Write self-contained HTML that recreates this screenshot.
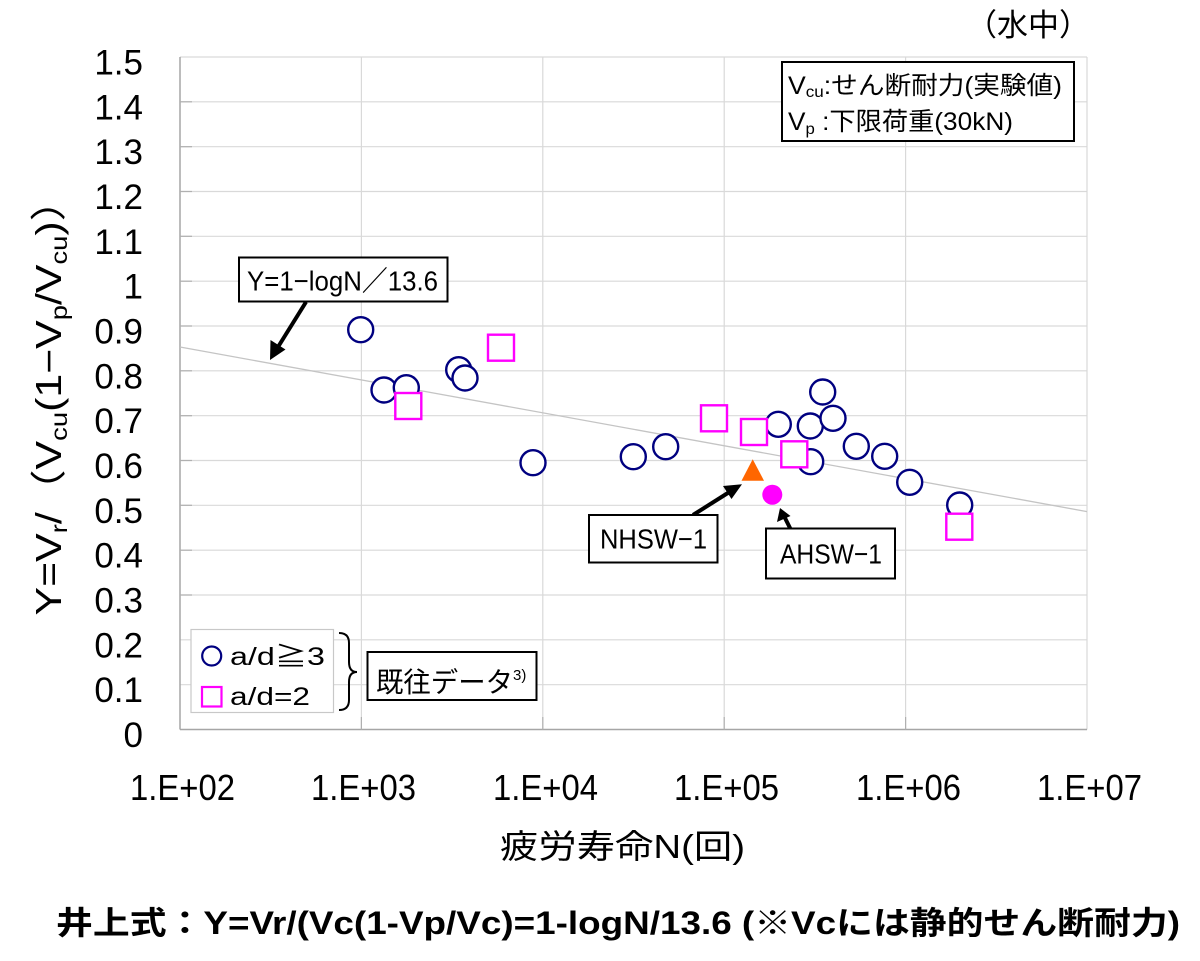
<!DOCTYPE html>
<html>
<head>
<meta charset="utf-8">
<style>
html,body{margin:0;padding:0;background:#fff;}
svg{display:block;}
text{font-family:"Liberation Sans","Noto Sans CJK JP",sans-serif;fill:#000;}
</style>
</head>
<body>
<svg width="1200" height="961" viewBox="0 0 1200 961" xmlns="http://www.w3.org/2000/svg">
<rect x="0" y="0" width="1200" height="961" fill="#fff"/>

<g stroke="#d9d9d9" stroke-width="1.2">
<line x1="180" y1="57" x2="1087" y2="57"/>
<line x1="180" y1="101.8" x2="1087" y2="101.8"/>
<line x1="180" y1="146.7" x2="1087" y2="146.7"/>
<line x1="180" y1="191.5" x2="1087" y2="191.5"/>
<line x1="180" y1="236.3" x2="1087" y2="236.3"/>
<line x1="180" y1="281.2" x2="1087" y2="281.2"/>
<line x1="180" y1="326" x2="1087" y2="326"/>
<line x1="180" y1="370.8" x2="1087" y2="370.8"/>
<line x1="180" y1="415.7" x2="1087" y2="415.7"/>
<line x1="180" y1="460.5" x2="1087" y2="460.5"/>
<line x1="180" y1="505.3" x2="1087" y2="505.3"/>
<line x1="180" y1="550.2" x2="1087" y2="550.2"/>
<line x1="180" y1="595" x2="1087" y2="595"/>
<line x1="180" y1="639.8" x2="1087" y2="639.8"/>
<line x1="180" y1="684.7" x2="1087" y2="684.7"/>
<line x1="361.4" y1="57" x2="361.4" y2="729.5"/>
<line x1="542.8" y1="57" x2="542.8" y2="729.5"/>
<line x1="724.2" y1="57" x2="724.2" y2="729.5"/>
<line x1="905.6" y1="57" x2="905.6" y2="729.5"/>
<line x1="1087" y1="57" x2="1087" y2="729.5"/>
</g>
<line x1="180" y1="57" x2="180" y2="729.5" stroke="#a6a6a6" stroke-width="1.5"/>
<line x1="180" y1="729.5" x2="1087" y2="729.5" stroke="#a6a6a6" stroke-width="1.5"/>
<g stroke="#b0b0b0" stroke-width="1.2">
<line x1="180" y1="101.8" x2="192" y2="101.8"/><line x1="180" y1="146.7" x2="192" y2="146.7"/>
<line x1="180" y1="191.5" x2="192" y2="191.5"/><line x1="180" y1="236.3" x2="192" y2="236.3"/>
<line x1="180" y1="281.2" x2="192" y2="281.2"/><line x1="180" y1="326" x2="192" y2="326"/>
<line x1="180" y1="370.8" x2="192" y2="370.8"/><line x1="180" y1="415.7" x2="192" y2="415.7"/>
<line x1="180" y1="460.5" x2="192" y2="460.5"/><line x1="180" y1="505.3" x2="192" y2="505.3"/>
<line x1="180" y1="550.2" x2="192" y2="550.2"/><line x1="180" y1="595" x2="192" y2="595"/>
<line x1="361.4" y1="717" x2="361.4" y2="729.5"/><line x1="542.8" y1="717" x2="542.8" y2="729.5"/>
<line x1="724.2" y1="717" x2="724.2" y2="729.5"/><line x1="905.6" y1="717" x2="905.6" y2="729.5"/>
</g>

<line x1="180" y1="347" x2="1087" y2="511.6" stroke="#c4c4c4" stroke-width="1.3"/>

<g font-size="35" text-anchor="end">
<text x="143" y="74.5">1.5</text>
<text x="143" y="119.3">1.4</text>
<text x="143" y="164.2">1.3</text>
<text x="143" y="209">1.2</text>
<text x="143" y="253.8">1.1</text>
<text x="143" y="298.7">1</text>
<text x="143" y="343.5">0.9</text>
<text x="143" y="388.3">0.8</text>
<text x="143" y="433.2">0.7</text>
<text x="143" y="478">0.6</text>
<text x="143" y="522.8">0.5</text>
<text x="143" y="567.7">0.4</text>
<text x="143" y="612.5">0.3</text>
<text x="143" y="657.3">0.2</text>
<text x="143" y="702.2">0.1</text>
<text x="143" y="747">0</text>
</g>

<g font-size="36">
<text x="130" y="800" textLength="105" lengthAdjust="spacingAndGlyphs">1.E+02</text>
<text x="311" y="800" textLength="105" lengthAdjust="spacingAndGlyphs">1.E+03</text>
<text x="493" y="800" textLength="105" lengthAdjust="spacingAndGlyphs">1.E+04</text>
<text x="674" y="800" textLength="105" lengthAdjust="spacingAndGlyphs">1.E+05</text>
<text x="856" y="800" textLength="105" lengthAdjust="spacingAndGlyphs">1.E+06</text>
<text x="1037" y="800" textLength="105" lengthAdjust="spacingAndGlyphs">1.E+07</text>
</g>

<text x="500" y="858" font-size="33" textLength="245" lengthAdjust="spacingAndGlyphs">疲労寿命N(回)</text>
<text transform="translate(61,397) rotate(-90)" text-anchor="middle" font-size="36" textLength="437" lengthAdjust="spacingAndGlyphs">Y=V<tspan font-size="23" dy="6">r</tspan><tspan dy="-6">/（V</tspan><tspan font-size="23" dy="6">cu</tspan><tspan dy="-6">(1−V</tspan><tspan font-size="23" dy="6">p</tspan><tspan dy="-6">/V</tspan><tspan font-size="23" dy="6">cu</tspan><tspan dy="-6">)）</tspan></text>

<text x="966" y="36" font-size="31">（水中）</text>

<rect x="782" y="62" width="292" height="79" fill="#fff" stroke="#000" stroke-width="2"/>
<text x="788" y="94" font-size="25" textLength="274" lengthAdjust="spacingAndGlyphs">V<tspan font-size="16" dy="3">cu</tspan><tspan dy="-3">:せん断耐力(実験値)</tspan></text>
<text x="788" y="130" font-size="25" textLength="225" lengthAdjust="spacingAndGlyphs">V<tspan font-size="16" dy="4">p</tspan><tspan dy="-4"> :下限荷重(30kN)</tspan></text>

<g fill="#fff" stroke="#000080" stroke-width="2.4">
<circle cx="360.7" cy="329.7" r="12.5"/>
<circle cx="384" cy="390" r="12.5"/>
<circle cx="406.3" cy="387.7" r="12.5"/>
<circle cx="458.7" cy="369.7" r="12.5"/>
<circle cx="465" cy="378" r="12.5"/>
<circle cx="533" cy="462.7" r="12.5"/>
<circle cx="633.3" cy="456.7" r="12.5"/>
<circle cx="665.7" cy="446.7" r="12.5"/>
<circle cx="778.3" cy="424.3" r="12.5"/>
<circle cx="810.7" cy="461.7" r="12.5"/>
<circle cx="810.3" cy="426" r="12.5"/>
<circle cx="822.7" cy="392" r="12.5"/>
<circle cx="833" cy="418.3" r="12.5"/>
<circle cx="856.3" cy="446.3" r="12.5"/>
<circle cx="884.7" cy="456.3" r="12.5"/>
<circle cx="909.7" cy="482.3" r="12.5"/>
<circle cx="959.7" cy="505" r="12.5"/>
</g>
<g fill="#fff" stroke="#ff00ff" stroke-width="2.4">
<rect x="395.3" y="393" width="26" height="26"/>
<rect x="488" y="334.7" width="26" height="26"/>
<rect x="701" y="405.3" width="26" height="26"/>
<rect x="741" y="419" width="26" height="26"/>
<rect x="781.3" y="441.3" width="26" height="26"/>
<rect x="946.3" y="513.7" width="26" height="26"/>
</g>

<polygon points="752.7,459.3 741.5,480.7 764,480.7" fill="#ff6600"/>
<circle cx="772.3" cy="494.7" r="10" fill="#ff00ff"/>

<rect x="239" y="257.5" width="208.5" height="44" fill="#fff" stroke="#000" stroke-width="2"/>
<text x="247" y="290.5" font-size="28" textLength="191" lengthAdjust="spacingAndGlyphs">Y=1−logN／13.6</text>
<line x1="306" y1="302" x2="278" y2="347" stroke="#000" stroke-width="4"/>
<polygon points="270,360 270.5,340 285.5,349.5" fill="#000"/>

<line x1="693" y1="515" x2="731" y2="491" stroke="#000" stroke-width="4"/>
<polygon points="742,484.3 723,486 731.5,499" fill="#000"/>
<rect x="589" y="515" width="128.5" height="47.5" fill="#fff" stroke="#000" stroke-width="2"/>
<text x="600" y="548.3" font-size="28" textLength="107" lengthAdjust="spacingAndGlyphs">NHSW−1</text>

<line x1="791" y1="530" x2="784" y2="516" stroke="#000" stroke-width="4"/>
<polygon points="780,508 777,522 790.5,516" fill="#000"/>
<rect x="766" y="528.5" width="129" height="50" fill="#fff" stroke="#000" stroke-width="2"/>
<text x="780" y="563.3" font-size="28" textLength="102" lengthAdjust="spacingAndGlyphs">AHSW−1</text>

<rect x="191" y="629.5" width="142.5" height="83" fill="#fff" stroke="#c8c8c8" stroke-width="1.2"/>
<circle cx="211.7" cy="656" r="9.5" fill="none" stroke="#000080" stroke-width="2.2"/>
<rect x="202" y="687" width="19.5" height="19.5" fill="none" stroke="#ff00ff" stroke-width="2.2"/>
<text x="230" y="665" font-size="25" textLength="95" lengthAdjust="spacingAndGlyphs">a/d≧3</text>
<text x="230" y="705" font-size="25" textLength="80" lengthAdjust="spacingAndGlyphs">a/d=2</text>

<path d="M339,633 Q349,633 349,643 L349,662 Q349,672 357,672 Q349,672 349,682 L349,700 Q349,710 339,710" fill="none" stroke="#000" stroke-width="2"/>

<rect x="367.5" y="652" width="169" height="48" fill="#fff" stroke="#000" stroke-width="2"/>
<text x="376" y="692" font-size="28" textLength="137" lengthAdjust="spacingAndGlyphs">既往データ</text>
<text x="513" y="680" font-size="15">3)</text>

<text x="56" y="934" font-size="32" font-weight="bold" textLength="1124" lengthAdjust="spacingAndGlyphs">井上式：Y=Vr/(Vc(1-Vp/Vc)=1-logN/13.6 (※Vcには静的せん断耐力)</text>
</svg>
</body>
</html>
